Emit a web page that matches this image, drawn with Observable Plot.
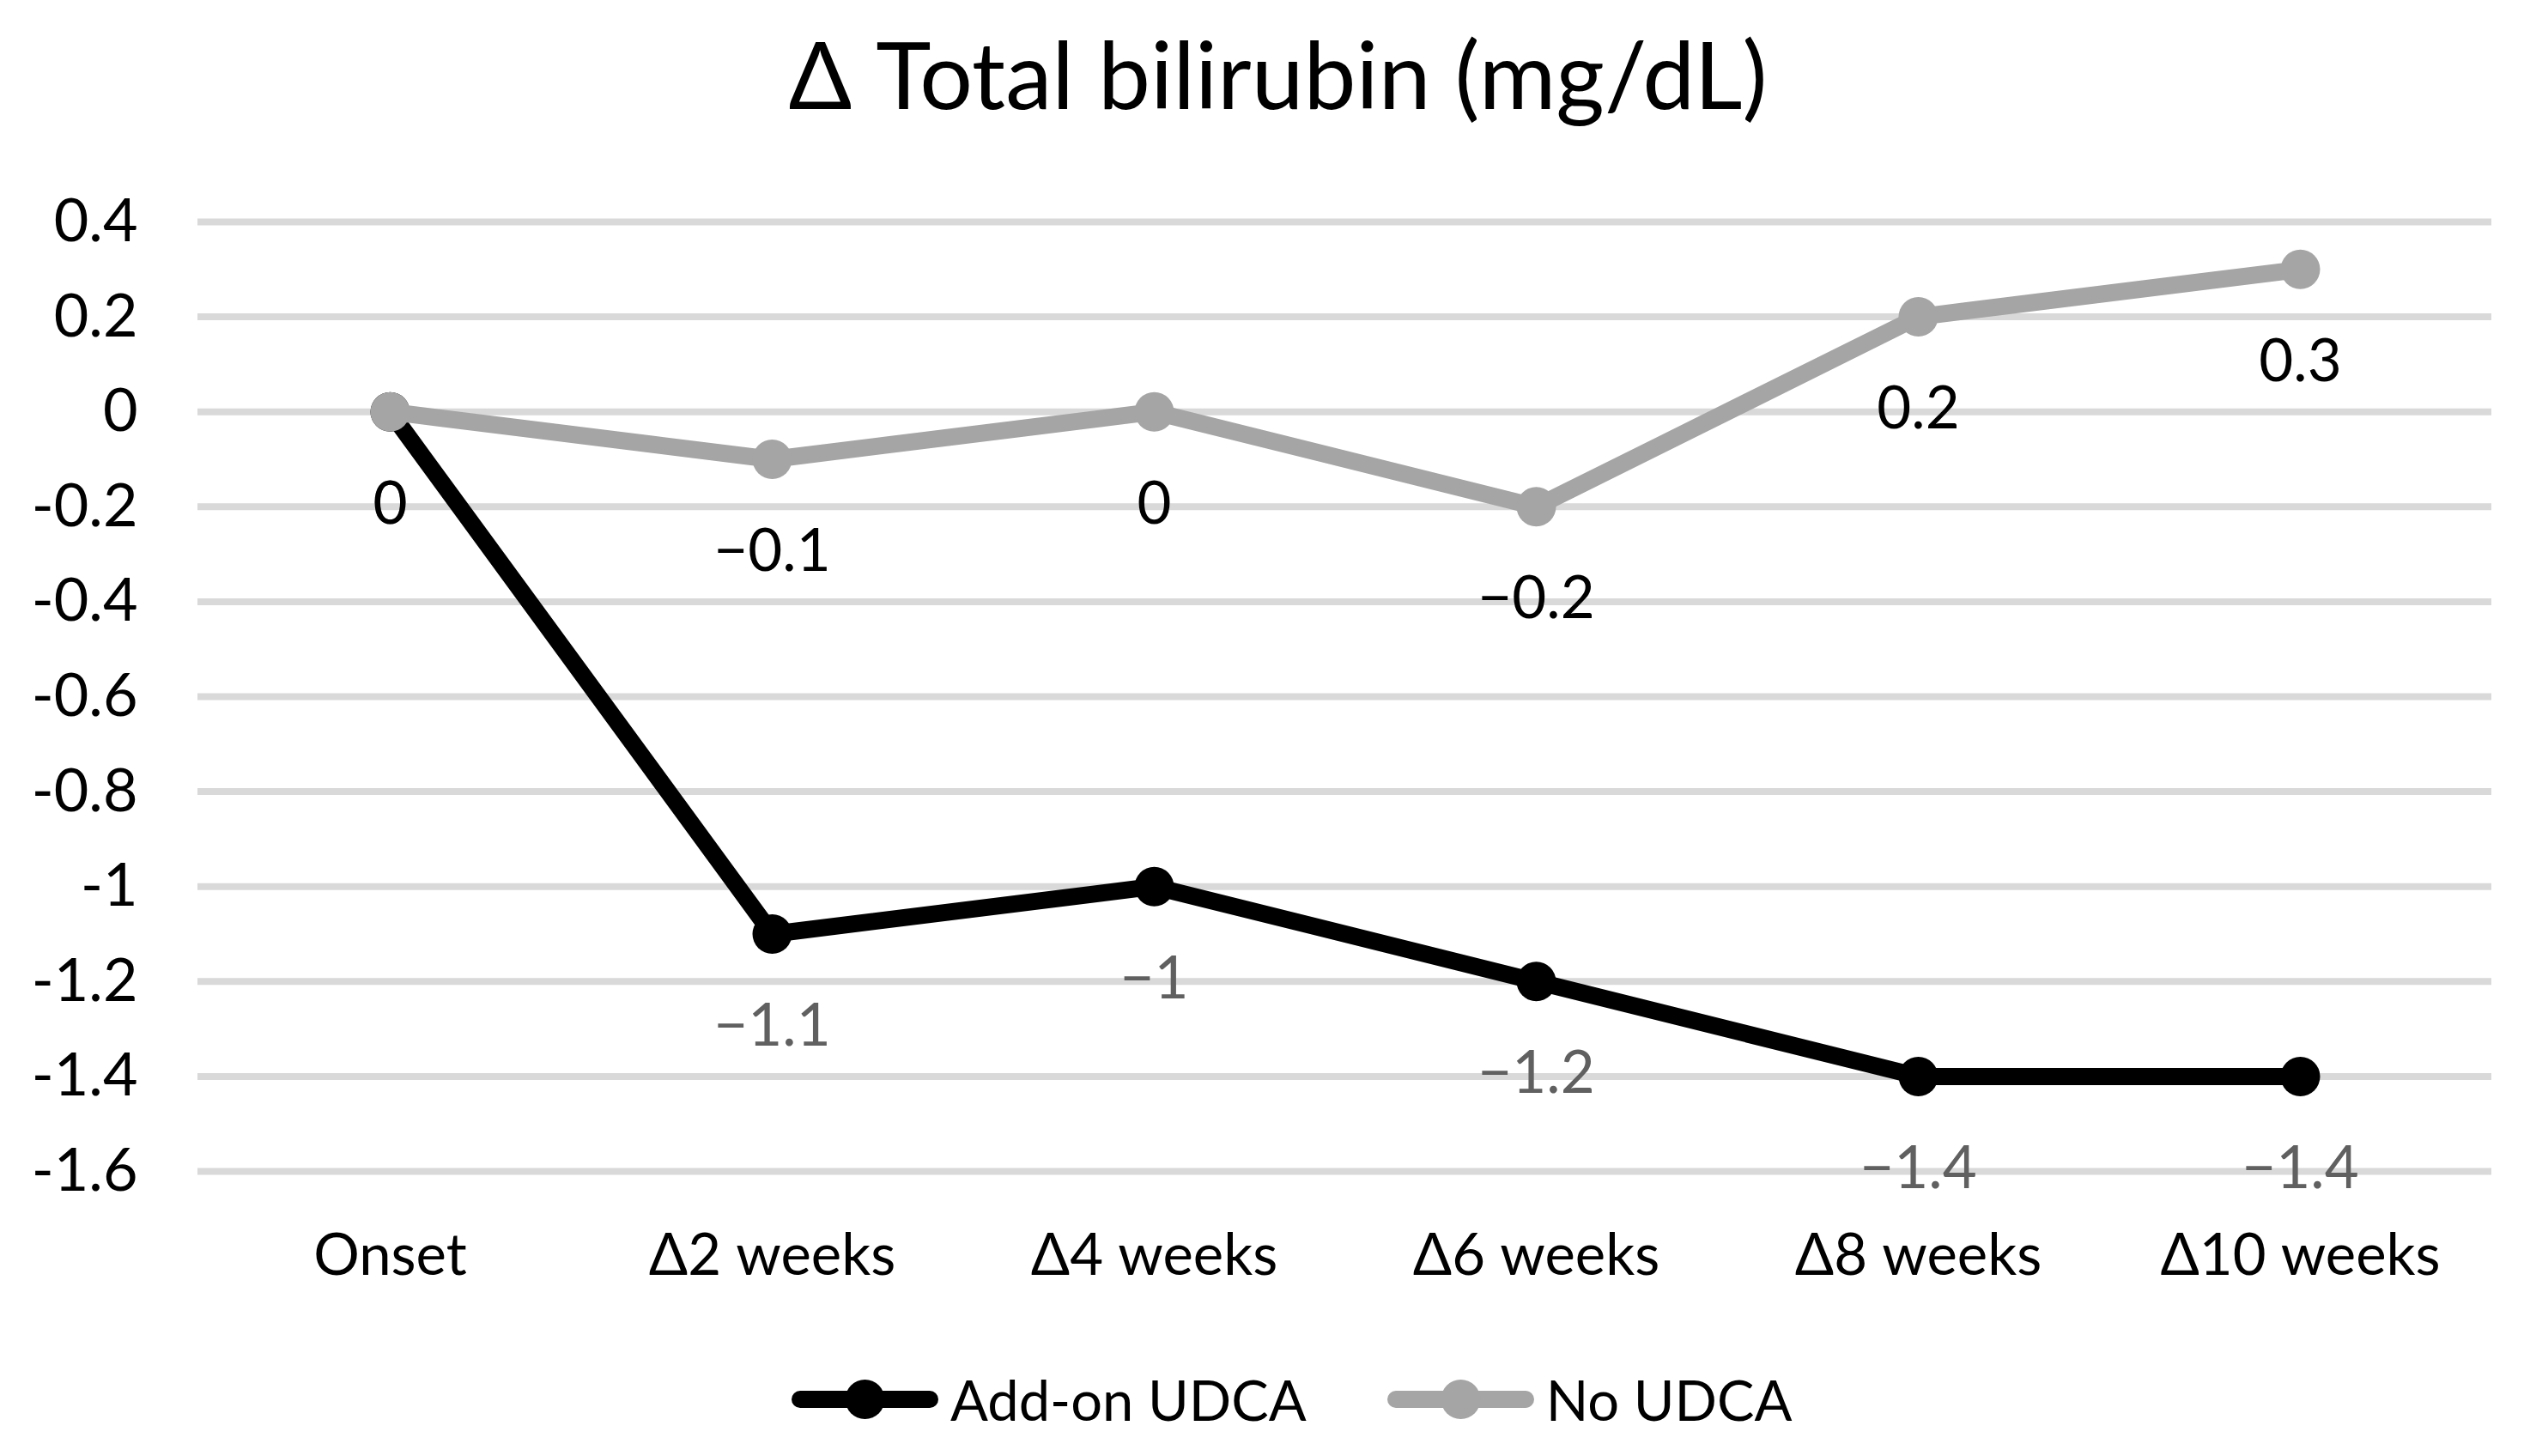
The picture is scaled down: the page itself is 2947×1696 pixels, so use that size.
<!DOCTYPE html>
<html>
<head>
<meta charset="utf-8">
<script src="https://cdn.jsdelivr.net/npm/d3@7"></script>
<script src="https://cdn.jsdelivr.net/npm/@observablehq/plot@0.6"></script>
<style>
  html, body { margin: 0; padding: 0; background: #fff; }
  #wrap { position: relative; width: 2947px; height: 1696px; font-family: Lato, "Open Sans", sans-serif; color: #000; overflow: hidden; }
  #title { position: absolute; left: 15px; top: 20px; width: 2947px; text-align: center; font-size: 109px; line-height: 1.2; }
  #chart { position: absolute; left: 0; top: 196px; }
  #legend { position: absolute; left: 922px; top: 1588px; height: 84px; display: flex; align-items: center; font-size: 65px; line-height: 1.2; }
  .item { display: flex; align-items: center; }
  .item svg { margin-right: 14px; }
</style>
</head>
<body>
<div id="wrap">
  <div id="title">Δ Total bilirubin (mg/dL)</div>
  <div id="chart"></div>
  <div id="legend"></div>
</div>
<script>
const categories = ["Onset", "Δ2 weeks", "Δ4 weeks", "Δ6 weeks", "Δ8 weeks", "Δ10 weeks"];
const addOnUDCA = [0, -1.1, -1, -1.2, -1.4, -1.4];
const noUDCA = [0, -0.1, 0, -0.2, 0.2, 0.3];
const yTicks = [0.4, 0.2, 0, -0.2, -0.4, -0.6, -0.8, -1, -1.2, -1.4, -1.6];
const seriesNames = ["Add-on UDCA", "No UDCA"];
const seriesColors = ["#000000", "#a5a5a5"];
const labelColors = ["#606060", "#000000"];

const seriesValues = [addOnUDCA, noUDCA];
const rows = [];
seriesNames.forEach((name, si) => {
  categories.forEach((c, i) => rows.push({series: name, si, cat: c, value: seriesValues[si][i]}));
});

const fmtLabel = d3.format(".1~f");
const fmtTick = d => d3.format(".1~f")(d).replace("\u2212", "-");

const marks = [
  Plot.ruleY(yTicks, {y: d => d, stroke: "#d9d9d9", strokeWidth: 8}),
  Plot.axisY({ticks: yTicks, tickSize: 0, tickPadding: 70, tickFormat: fmtTick, fontSize: 70, label: null}),
  Plot.axisX({tickSize: 0, tickPadding: 73, fontSize: 67, label: null})
];
seriesNames.forEach((name, si) => {
  const data = rows.filter(r => r.si === si);
  marks.push(
    Plot.line(data, {x: "cat", y: "value", stroke: seriesColors[si], strokeWidth: 20, strokeLinejoin: "round", strokeLinecap: "round"}),
    Plot.dot(data, {x: "cat", y: "value", r: 23, fill: seriesColors[si], stroke: "none"})
  );
});
seriesNames.forEach((name, si) => {
  const data = rows.filter(r => r.si === si);
  marks.push(Plot.text(data, {x: "cat", y: "value", text: d => fmtLabel(d.value), dy: 108, fill: labelColors[si], fontSize: 69}));
});

const plot = Plot.plot({
  width: 2947,
  height: 1330,
  marginTop: 62,
  marginBottom: 162,
  marginLeft: 230,
  marginRight: 45,
  x: {type: "point", domain: categories, padding: 0.5, label: null},
  y: {domain: [-1.6, 0.4], label: null},
  style: {fontFamily: "Lato, 'Open Sans', sans-serif", color: "#000", background: "transparent", overflow: "visible"},
  marks
});
document.getElementById("chart").appendChild(plot);

const legend = document.getElementById("legend");
seriesNames.forEach((name, si) => {
  const item = document.createElement("div");
  item.className = "item";
  if (si > 0) item.style.marginLeft = "94px";
  item.innerHTML = `<svg width="171" height="50" viewBox="0 0 171 50"><line x1="10" y1="25" x2="161" y2="25" stroke="${seriesColors[si]}" stroke-width="20" stroke-linecap="round"/><circle cx="85.5" cy="25" r="23" fill="${seriesColors[si]}"/></svg><span>${name}</span>`;
  legend.appendChild(item);
});
</script>
</body>
</html>
